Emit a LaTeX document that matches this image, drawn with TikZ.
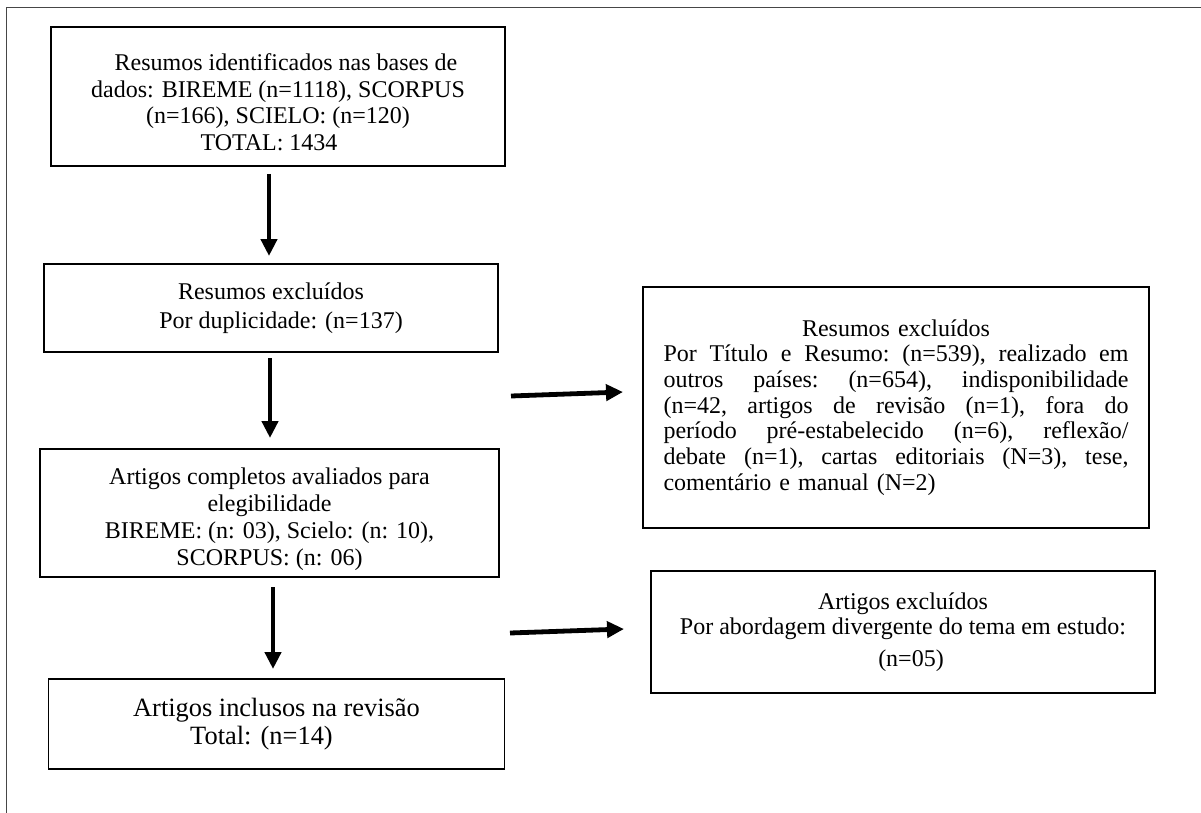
\documentclass[tikz,border=0pt]{standalone}
\usepackage{fontspec}
\setmainfont{Liberation Serif}
\usetikzlibrary{arrows.meta}
\newcommand\myjust[1]{\leavevmode\hbox to 465pt{\frenchspacing\spaceskip=.25em plus 1fil\xspaceskip=\spaceskip\relax #1}}
\begin{document}
\begin{tikzpicture}[x=1pt,y=-1pt,
  box/.style={draw=black, line width=1.2pt, align=center, inner sep=0pt,
              font=\fontsize{24}{26.5}\selectfont},
  arr/.style={line width=4.8pt, -{Triangle[length=17pt,width=16pt]}},
  frameline/.style={draw=gray!55!black, line width=0.9pt}]
\useasboundingbox (0,0) rectangle (1201,813);

% outer frame (top and left)
\coordinate (fTR) at (1201,7);
\coordinate (fTL) at (6,7);
\coordinate (fBL) at (6,813);
\draw[frameline] (fTR) -- (fTL) -- (fBL);

% boxes
\node[box, minimum width=454pt, minimum height=139pt] (b1) at (278,96.5)
  {\rule{0pt}{28pt}\hspace*{16pt}Resumos identificados nas bases de\\dados: BIREME (n=1118), SCORPUS\\(n=166), SCIELO: (n=120)\\TOTAL: 1434\hspace*{18pt}};

\node[box, minimum width=454pt, minimum height=88pt] (b2) at (271,308)
  {Resumos excluídos\\[2.5pt]\hspace*{20pt}Por duplicidade: (n=137)};

\node[box, minimum width=459pt, minimum height=128pt, font=\fontsize{24}{27}\selectfont] (b3) at (269.5,513)
  {\rule{0pt}{29pt}Artigos completos avaliados para\\elegibilidade\\BIREME: (n: 03), Scielo: (n: 10),\\SCORPUS: (n: 06)};

\node[box, minimum width=456pt, minimum height=90pt, font=\fontsize{26.4}{28}\selectfont] (b4) at (276.5,724)
  {Artigos inclusos na revisão\\Total:\hspace{0.35em}(n=14)\hspace*{30pt}};

\node[box, minimum width=506pt, minimum height=241pt, text width=465pt, align=left,
      font=\fontsize{24}{25.7}\selectfont] (b5) at (896,407.5)
  {\leavevmode\hbox to 465pt{\hfil Resumos excluídos\hfil}\\
   \myjust{Por Título e Resumo: (n=539), realizado em}\\
   \myjust{outros países: (n=654), indisponibilidade}\\
   \myjust{(n=42, artigos de revisão (n=1), fora do}\\
   \myjust{período pré-estabelecido (n=6), reflexão/}\\
   \myjust{debate (n=1), cartas editoriais (N=3), tese,}\\
   comentário e manual (N=2)};

\node[box, minimum width=504pt, minimum height=122pt, font=\fontsize{24}{25}\selectfont] (b6) at (903,632)
  {Artigos excluídos\\Por abordagem divergente do tema em estudo:\\[7pt]\hspace*{16pt}(n=05)};

% arrows
\coordinate (a1s) at (269,174);  \coordinate (a1e) at (269,256);
\coordinate (a2s) at (270,358);  \coordinate (a2e) at (270,438);
\coordinate (a3s) at (273,587);  \coordinate (a3e) at (273,669);
\coordinate (h1s) at (511,396);  \coordinate (h1e) at (623,392);
\coordinate (h2s) at (510,633);  \coordinate (h2e) at (624,629);
\draw[arr] (a1s) -- (a1e);
\draw[arr] (a2s) -- (a2e);
\draw[arr] (a3s) -- (a3e);
\draw[arr] (h1s) -- (h1e);
\draw[arr] (h2s) -- (h2e);
\end{tikzpicture}
\end{document}
